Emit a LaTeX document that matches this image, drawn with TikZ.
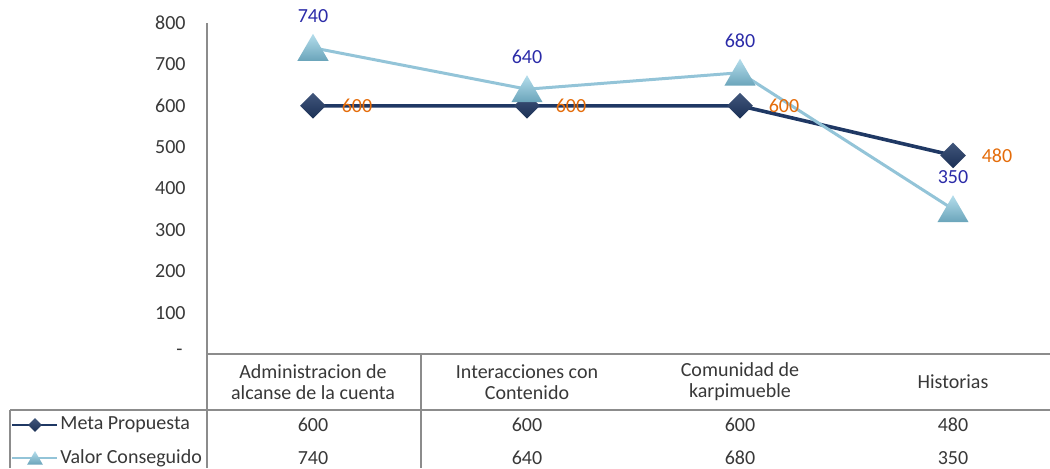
\documentclass[tikz,border=0pt]{standalone}
\usepackage{fontspec}
\setmainfont{Carlito}
\usetikzlibrary{shapes.geometric}

\definecolor{metablue}{HTML}{1F3864}
\definecolor{valorblue}{HTML}{93C4D8}
\definecolor{valortop}{HTML}{B5DEEC}
\definecolor{valorbot}{HTML}{6AA4BA}
\definecolor{gridgray}{HTML}{8C8C8C}
\definecolor{numorange}{HTML}{E46C0A}
\definecolor{numblue}{HTML}{2B2BA8}
\definecolor{inkgray}{HTML}{383838}

\begin{document}
\begin{tikzpicture}[x=0.5pt, y=-0.5pt, font=\fontsize{10}{10.5}\selectfont]
            \tikzset{every node/.style = {inner sep=0pt, text=inkgray}}
            \tikzset{metaline/.style = {draw=metablue, line width=1.8pt}}
            \tikzset{valorline/.style = {draw=valorblue, line width=1.5pt}}
            \tikzset{metamark/.style = {shape=diamond, minimum size=13pt, top color=metablue!85!white, bottom color=metablue!85!black, draw=none}}
            \tikzset{valormark/.style = {shape=regular polygon, regular polygon sides=3, minimum size=18pt, top color=valortop, bottom color=valorbot, draw=none}}
            \tikzset{metanum/.style = {text=numorange, xshift=22pt}}
            \tikzset{valornum/.style = {text=numblue, yshift=16pt}}
            \tikzset{rule/.style = {draw=gridgray, line width=0.9pt}}

            \useasboundingbox (0,0) rectangle (1050,468);

            % axis and table rules
            \draw[rule] (207,23) -- (207,468);
            \draw[rule] (207,354) -- (1050,354);
            \draw[rule] (10,410) -- (1050,410);
            \draw[rule] (10,410) -- (10,468);
            \draw[rule] (421,354) -- (421,468);

            % value axis
            \foreach \v in {100,200,...,800}
                \node[anchor=east] at (186, 354-\v*0.41375) {\v};
            \node[anchor=east] at (183,352) {-};

            % data points
            \coordinate (m1) at (313,105.8);
            \coordinate (m2) at (527,105.8);
            \coordinate (m3) at (740,105.8);
            \coordinate (m4) at (953,155.4);
            \coordinate (v1) at (313,47.8);
            \coordinate (v2) at (527,89.2);
            \coordinate (v3) at (740,72.7);
            \coordinate (v4) at (953,209.2);

            % Meta Propuesta series
            \draw[metaline] (m1) -- (m2) -- (m3) -- (m4);
            \node[metamark] (dm1) at (m1) {};
            \node[metamark] (dm2) at (m2) {};
            \node[metamark] (dm3) at (m3) {};
            \node[metamark] (dm4) at (m4) {};

            % Valor Conseguido series
            \draw[valorline] (v1) -- (v2) -- (v3) -- (v4);
            \node[valormark, yshift=-2pt] (tv1) at (v1) {};
            \node[valormark, yshift=-2pt] (tv2) at (v2) {};
            \node[valormark, yshift=-2pt] (tv3) at (v3) {};
            \node[valormark, yshift=-2pt] (tv4) at (v4) {};

            % value labels
            \node[metanum] (lm1) at (m1) {600};
            \node[metanum] (lm2) at (m2) {600};
            \node[metanum] (lm3) at (m3) {600};
            \node[metanum] (lm4) at (m4) {480};
            \node[valornum] (lv1) at (v1) {740};
            \node[valornum] (lv2) at (v2) {640};
            \node[valornum] (lv3) at (v3) {680};
            \node[valornum] (lv4) at (v4) {350};

            % category row
            \node[align=center] (c1) at (313,382) {Administracion de\\alcanse de la cuenta};
            \node[align=center] (c2) at (527,382) {Interacciones con\\Contenido};
            \node[align=center] (c3) at (740,382) {Comunidad de\\karpimueble};
            \node (c4) at (953,382) {Historias};

            % legend keys
            \coordinate (ka) at (12,425);
            \coordinate (kb) at (57,425);
            \coordinate (kc) at (12,458);
            \coordinate (kd) at (57,458);
            \draw[metaline, line width=1.3pt] (ka) -- (kb);
            \node[metamark, minimum size=7pt] (km) at (35,425) {};
            \draw[valorline, line width=1.1pt] (kc) -- (kd);
            \node[valormark, minimum size=9pt, yshift=-1pt] (kv) at (35,458) {};
            \node[anchor=west] (tm) at (60,425) {Meta Propuesta};
            \node[anchor=west] (tv) at (60,458) {Valor Conseguido};

            % table values
            \node (a1) at (313,425) {600};
            \node (a2) at (527,425) {600};
            \node (a3) at (740,425) {600};
            \node (a4) at (953,425) {480};
            \node (b1) at (313,458) {740};
            \node (b2) at (527,458) {640};
            \node (b3) at (740,458) {680};
            \node (b4) at (953,458) {350};

        \end{tikzpicture}
\end{document}
